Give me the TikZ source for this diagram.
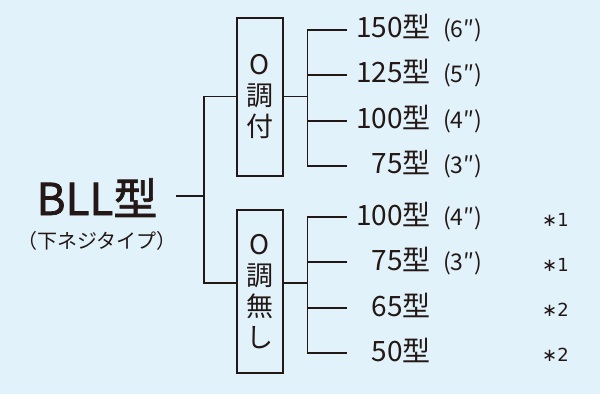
\documentclass[tikz,border=0pt]{standalone}
\usepackage{fontspec}
\setmainfont{Noto Sans CJK JP}
\newfontfamily\medfont[FakeBold=1.6]{Noto Sans CJK JP}
\newfontfamily\dejavu{DejaVu Sans}
\definecolor{bg}{HTML}{E1F2FA}
\definecolor{ink}{HTML}{231815}
\begin{document}
\begin{tikzpicture}[x=1pt,y=-1pt,
  conn/.style={draw=ink, line width=1.2pt},
  vbox/.style={draw=ink, line width=1.3pt, minimum width=46pt, inner sep=0pt,
    align=center, text=ink, font=\fontsize{27}{31}\selectfont},
  model/.style={anchor=base east, inner sep=0pt, text=ink, font=\fontsize{28}{28}\selectfont},
  inch/.style={anchor=base west, inner sep=0pt, text=ink, font=\fontsize{23}{23}\selectfont},
  note/.style={anchor=base west, inner sep=0pt, text=ink, font=\fontsize{18}{18}\dejavu}]
\fill[bg] (0,0) rectangle (600,394);
\useasboundingbox (0,0) rectangle (600,394);
% left title
\node[anchor=base, inner sep=0pt, text=ink, font=\fontsize{44}{44}\medfont] (bll) at (97,215) {BLL型};
\node[anchor=base, inner sep=0pt, text=ink, font=\fontsize{20}{20}\selectfont] (sub) at (97,248) {（下ネジタイプ）};
% boxes
\node[vbox, minimum height=158pt] (box1) at (260,97) {O\\調\\付};
\node[vbox, minimum height=163pt] (box2) at (260,291.5) {O\\調\\無\\し};
% left connectors
\coordinate (bllR) at (176,196);
\coordinate (spine) at (204,196);
\draw[conn] (bllR) -- (spine);
\draw[conn] ([yshift=0.5pt]box1.west) -| (spine) |- ([yshift=8.5pt]box2.west);
% right of box1
\draw[conn] ([yshift=0.5pt]box1.east) -- ++(24,0) coordinate (s1);
\coordinate (e1) at (347,30);
\coordinate (e2) at (347,75);
\coordinate (e3) at (347,121);
\coordinate (e4) at (347,166);
\draw[conn] (e1) -| (s1);
\draw[conn] (e4) -| (s1);
\draw[conn] (e2) -- (e2 -| s1);
\draw[conn] (e3) -- (e3 -| s1);
% right of box2
\draw[conn] ([yshift=8.5pt]box2.east) -- ++(24,0) coordinate (s2);
\coordinate (f1) at (347,217);
\coordinate (f2) at (347,262);
\coordinate (f3) at (347,308);
\coordinate (f4) at (347,353);
\draw[conn] (f1) -| (s2);
\draw[conn] (f4) -| (s2);
\draw[conn] (f2) -- (f2 -| s2);
\draw[conn] (f3) -- (f3 -| s2);
% labels box1
\node[model] (m1) at (431,37) {150型};
\node[model] (m2) at (431,82) {125型};
\node[model] (m3) at (431,128) {100型};
\node[model] (m4) at (431,173) {75型};
\node[inch] (i1) at (443,37) {(6″)};
\node[inch] (i2) at (443,82) {(5″)};
\node[inch] (i3) at (443,128) {(4″)};
\node[inch] (i4) at (443,173) {(3″)};
% labels box2
\node[model] (n1) at (431,225) {100型};
\node[model] (n2) at (431,270) {75型};
\node[model] (n3) at (431,316) {65型};
\node[model] (n4) at (431,361) {50型};
\node[inch] (j1) at (443,225) {(4″)};
\node[inch] (j2) at (443,270) {(3″)};
\node[note] (k1) at (542,226) {∗1};
\node[note] (k2) at (542,271) {∗1};
\node[note] (k3) at (542,316) {∗2};
\node[note] (k4) at (542,361) {∗2};
\end{tikzpicture}
\end{document}
